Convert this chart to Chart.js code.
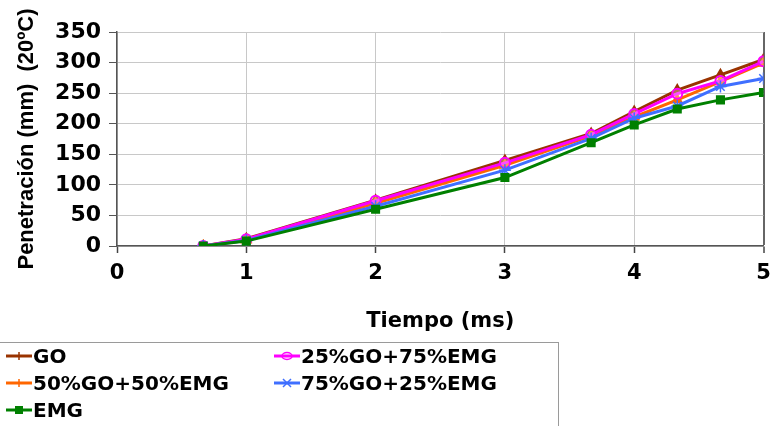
<!DOCTYPE html>
<html>
<head>
<meta charset="utf-8">
<script src="https://cdn.jsdelivr.net/npm/chart.js@4/dist/chart.umd.min.js"></script>
<style>
  html, body { margin: 0; padding: 0; background: #fff; }
  #wrap { position: relative; width: 771px; height: 426px; overflow: hidden; }
  #legend {
    position: absolute; left: -2px; top: 342px; width: 561px; height: 100px;
    border: 1px solid #9a9a9a; box-sizing: border-box;
    font: bold 20px "DejaVu Sans", sans-serif; color: #000;
  }
  .item { position: absolute; height: 26px; line-height: 26px; white-space: nowrap; }
  .item canvas { vertical-align: middle; margin-right: 1px; position: relative; top: -2px; }
</style>
</head>
<body>
<div id="wrap">
  <canvas id="chart" width="771" height="426"></canvas>
  <div id="legend"></div>
</div>
<script>
// time (ms)
const tiempo = [0.667, 1, 2, 3, 3.667, 4, 4.333, 4.667, 5];
// penetration (mm) per mixture
const go      = [0, 12, 75, 140, 184, 220, 255, 280, 305];
const go50    = [0, 10, 70, 132, 180, 211, 239, 269, 299];
const go25    = [0, 11, 74, 136, 182, 216, 249, 270, 302];
const go75    = [0,  9, 65, 124, 176, 209, 229, 261, 274];
const emg     = [0,  8, 60, 112, 169, 198, 224, 239, 251];

const xTicks = [0, 1, 2, 3, 4, 5];
const yTicks = [0, 50, 100, 150, 200, 250, 300, 350];

const FONT = '"DejaVu Sans", sans-serif';

function pts(vals) {
  return vals.map((v, i) => ({ x: tiempo[i], y: v }));
}

const series = [
  { label: 'GO', data: go, color: '#993300', style: 'triangle', col: 0, row: 0, order: 5 },
  { label: '50%GO+50%EMG', data: go50, color: '#ff6600', style: 'triangle', col: 0, row: 1, order: 4 },
  { label: 'EMG', data: emg, color: '#008000', style: 'rect', col: 0, row: 2, order: 1 },
  { label: '25%GO+75%EMG', data: go25, color: '#ff00ff', style: 'circle', col: 1, row: 0, order: 3 },
  { label: '75%GO+25%EMG', data: go75, color: '#3f6fff', style: 'star', col: 1, row: 1, order: 2 }
];

const datasets = series.map(s => ({
  label: s.label,
  data: pts(s.data),
  borderColor: s.color,
  backgroundColor: s.style === 'circle' ? 'rgba(255,255,255,0.3)' : s.color,
  pointStyle: s.style,
  pointRadius: s.style === 'star' ? 6 : 5,
  pointBorderWidth: s.style === 'star' ? 1.5 : 2,
  borderWidth: 3,
  showLine: true,
  order: s.order
}));

new Chart(document.getElementById('chart'), {
  type: 'scatter',
  data: { datasets: datasets },
  options: {
    responsive: false,
    animation: false,
    layout: { padding: { left: 0, top: 32, right: 6, bottom: 91 } },
    plugins: { legend: { display: false }, tooltip: { enabled: false } },
    scales: {
      x: {
        type: 'linear', min: 0, max: 5,
        afterFit: s => { s.height = 89; s.paddingLeft = 0; s.paddingRight = 0; },
        afterBuildTicks: s => { s.ticks = xTicks.map(v => ({ value: v })); },
        ticks: { color: '#000', padding: 8, font: { family: FONT, size: 21, weight: 'bold' } },
        grid: {
          color: c => c.tick && c.tick.value === 5 ? '#666' : '#c8c8c8',
          lineWidth: c => c.tick && c.tick.value === 5 ? 2 : 1,
          tickLength: 7, tickColor: '#444', tickWidth: 1.5
        },
        border: { color: '#555', width: 1.5 },
        title: {
          display: true, text: 'Tiempo (ms)', color: '#000',
          padding: { top: 0, bottom: 1 },
          font: { family: FONT, size: 21, weight: 'bold' }
        }
      },
      y: {
        min: 0, max: 350,
        afterFit: s => { s.width = 117; s.paddingTop = 0; s.paddingBottom = 0; },
        afterBuildTicks: s => { s.ticks = yTicks.map(v => ({ value: v })); },
        ticks: { color: '#000', padding: 8, font: { family: FONT, size: 22, weight: 'bold' } },
        grid: { color: '#c8c8c8', lineWidth: 1, tickLength: 8, tickColor: '#555' },
        border: { color: '#555', width: 1.5 },
        title: {
          display: true, text: 'Penetración (mm)  (20ºC)', color: '#000',
          padding: { top: 14, bottom: 0 },
          font: { family: '"Liberation Sans", Arial, sans-serif', size: 22, weight: 'bold' }
        }
      }
    }
  }
});

// legend drawn as html, two columns like the original
const legend = document.getElementById('legend');
series.forEach(s => {
  const item = document.createElement('div');
  item.className = 'item';
  item.style.left = (s.col === 0 ? 5 : 273) + 'px';
  item.style.top = (0 + s.row * 27) + 'px';
  const c = document.createElement('canvas');
  c.width = 28; c.height = 14;
  const g = c.getContext('2d');
  g.strokeStyle = s.color; g.fillStyle = s.color; g.lineWidth = 3;
  g.beginPath(); g.moveTo(2, 7); g.lineTo(28, 7); g.stroke();
  g.lineWidth = 1.5;
  if (s.style === 'rect') { g.fillRect(11, 3, 8, 8); }
  else if (s.style === 'triangle') { g.beginPath(); g.moveTo(15, 3); g.lineTo(15, 11); g.stroke(); }
  else if (s.style === 'circle') { g.beginPath(); g.ellipse(15, 7, 5, 3.5, 0, 0, 2 * Math.PI); g.stroke(); }
  else { g.beginPath(); g.moveTo(11, 3); g.lineTo(19, 11); g.moveTo(19, 3); g.lineTo(11, 11); g.stroke(); }
  item.appendChild(c);
  item.appendChild(document.createTextNode(s.label));
  legend.appendChild(item);
});
</script>
</body>
</html>
